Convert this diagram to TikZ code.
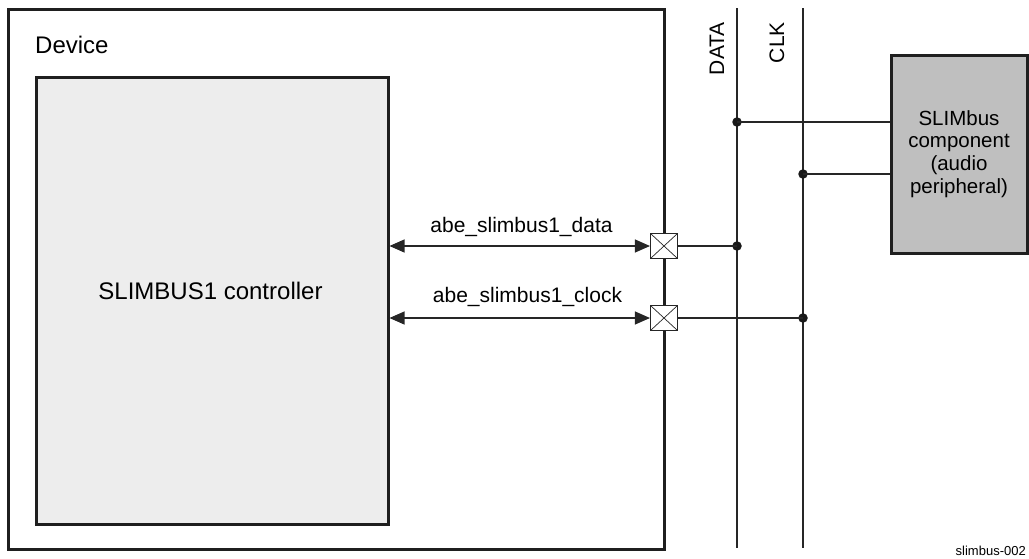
\documentclass[tikz,border=0pt]{standalone}
\usepackage{fontspec}
\setmainfont{Liberation Sans}
\usetikzlibrary{arrows.meta}
\begin{document}
\begin{tikzpicture}[x=1pt,y=-1pt,
  thickbox/.style={draw=black!88,line width=3pt,inner sep=0pt},
  padbox/.style={draw=black!85,line width=1.1pt,fill=white,minimum width=27pt,minimum height=25pt,inner sep=0pt,
    path picture={\draw[line width=0.7pt] (path picture bounding box.north west) -- (path picture bounding box.south east)
      (path picture bounding box.south west) -- (path picture bounding box.north east);}},
  wire/.style={draw=black!85,line width=1.1pt},
  biarrow/.style={wire,{Triangle[length=15pt,width=13pt]}-{Triangle[length=15pt,width=13pt]}},
  dot/.style={circle,fill=black!90,inner sep=0pt,minimum size=9.5pt},
  lbl/.style={font=\fontsize{21}{24}\selectfont,inner sep=0pt},
  big/.style={font=\fontsize{24}{27}\selectfont,inner sep=0pt}
]
\useasboundingbox (0,0) rectangle (1029,558);
% device
\node[thickbox,minimum width=656pt,minimum height=540pt] (dev) at (336,279) {};
\node[big,anchor=base west] (devl) at (35,53) {Device};
% controller
\node[thickbox,fill=black!7,minimum width=352pt,minimum height=447pt] (ctrl) at (212,300.5) {};
\node[big,anchor=base] (ctrll) at (210.5,299) {SLIMBUS1 controller};
% bus lines
\coordinate (dtop) at (737,8);
\coordinate (dbot) at (737,548);
\coordinate (ctop) at (803,8);
\coordinate (cbot) at (803,548);
\draw[wire] (dtop) -- (dbot);
\draw[wire] (ctop) -- (cbot);
\node[lbl,rotate=90,anchor=base east] (datal) at (724,22) {DATA};
\node[lbl,rotate=90,anchor=base east] (clkl) at (784,22) {CLK};
% slimbus component
\node[thickbox,fill=black!25,minimum width=136pt,minimum height=198pt,align=center,font=\fontsize{20.5}{22.7}\selectfont] (comp) at (959,154) {SLIMbus\\component\\(audio\\peripheral)};
% pads
\node[padbox] (p1) at (664,246) {};
\node[padbox] (p2) at (664,318) {};
% dots
\node[dot] (d1) at (737,122) {};
\node[dot] (d2) at (803,174) {};
\node[dot] (d3) at (737,246) {};
\node[dot] (d4) at (803,318) {};
% connectors
\draw[wire] (d1.center) -- (d1.center -| comp.west);
\draw[wire] (d2.center) -- (d2.center -| comp.west);
\draw[wire] (p1.east) -- (d3.center);
\draw[wire] (p2.east) -- (d4.center);
\draw[biarrow] (ctrl.east |- p1) -- (p1.west);
\draw[biarrow] (ctrl.east |- p2) -- (p2.west);
\node[lbl,anchor=base] (l1) at (521.5,232) {abe\_slimbus1\_data};
\node[lbl,anchor=base] (l2) at (527.5,302) {abe\_slimbus1\_clock};
\node[lbl,anchor=east,font=\fontsize{13}{15}\selectfont] (fig) at (1026,551) {slimbus-002};
\end{tikzpicture}
\end{document}
